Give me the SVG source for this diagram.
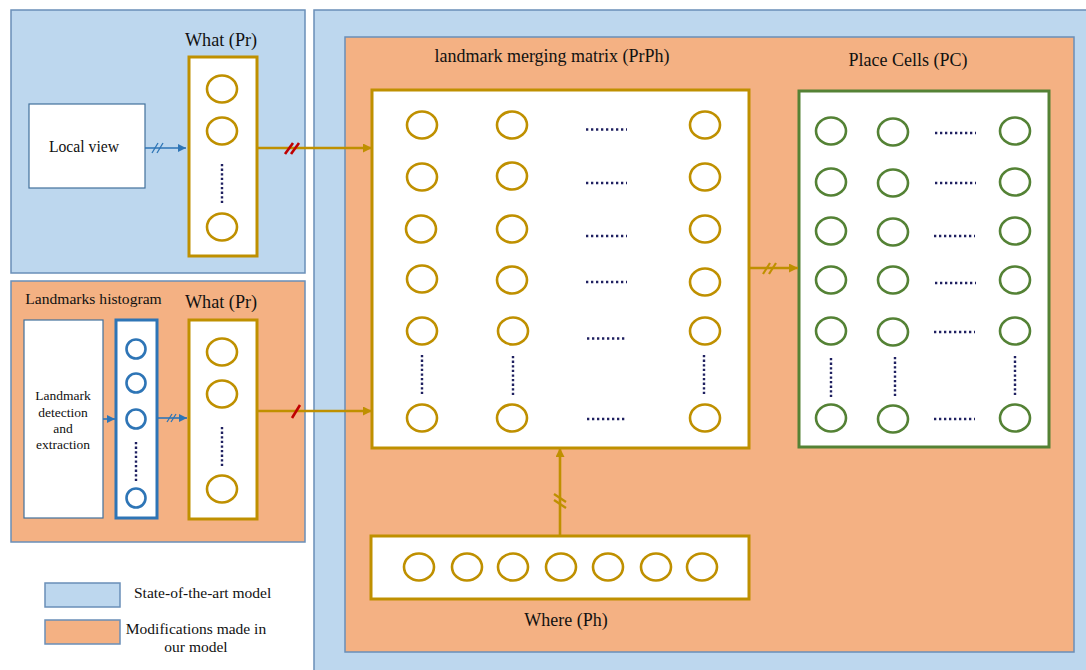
<svg xmlns="http://www.w3.org/2000/svg" width="1086" height="670" viewBox="0 0 1086 670">
<style>
text{font-family:"Liberation Serif","Times New Roman",serif;fill:#111}
.bp{fill:#BDD7EE;stroke:#6A8FB8;stroke-width:1.5}
.op{fill:#F4B183;stroke:#6A8FB8;stroke-width:1.5}
.gb{fill:#fff;stroke:#BF9000;stroke-width:3}
.gc{fill:#fff;stroke:#BF9000;stroke-width:2.6}
.bc{fill:#fff;stroke:#2E75B6;stroke-width:2.6}
.grb{fill:#fff;stroke:#548235;stroke-width:3}
.grc{fill:#fff;stroke:#548235;stroke-width:2.6}
.wb{fill:#fff;stroke:#41719C;stroke-width:1.2}
.dh{stroke:#1F2060;stroke-width:2.4;stroke-dasharray:2.3 2.7;fill:none}
.dv{stroke:#1F2060;stroke-width:2.4;stroke-dasharray:2.3 2.3;fill:none}
.lg{stroke:#BF9000;stroke-width:2.6;fill:none}
.lb{stroke:#2E75B6;stroke-width:1.6;fill:none}
.sr{stroke:#C00000;stroke-width:2.6}
.sb{stroke:#2E75B6;stroke-width:1.3}
.sg{stroke:#BF9000;stroke-width:2.2}
</style>
<defs>
<marker id="ag" viewBox="0 0 10 10" refX="10" refY="5" markerWidth="10" markerHeight="9" markerUnits="userSpaceOnUse" orient="auto"><path d="M0,0 L10,5 L0,10 z" fill="#BF9000"/></marker>
<marker id="ab" viewBox="0 0 10 10" refX="10" refY="5" markerWidth="9" markerHeight="8" markerUnits="userSpaceOnUse" orient="auto"><path d="M0,0 L10,5 L0,10 z" fill="#2E75B6"/></marker>
</defs>

<g id="panel-state-top">
<rect class="bp" x="11" y="10" width="294" height="263"/>
</g>
<g id="panel-right">
<rect class="bp" x="314" y="10" width="780" height="670"/>
<rect class="op" x="345" y="37" width="729" height="615"/>
</g>
<g id="panel-landmarks">
<rect class="op" x="11" y="281" width="294" height="261"/>
<text x="93.5" y="304" font-size="15.6" text-anchor="middle">Landmarks histogram</text>
</g>

<g id="local-view">
<rect class="wb" x="29" y="104" width="116" height="84"/>
<text x="84" y="152" font-size="15.7" text-anchor="middle">Local view</text>
</g>

<g id="what-top">
<text x="221" y="46" font-size="18.2" text-anchor="middle">What (Pr)</text>
<rect class="gb" x="189" y="57" width="68" height="199"/>
<ellipse class="gc" cx="222" cy="89" rx="15" ry="13.5"/>
<ellipse class="gc" cx="222" cy="131" rx="15" ry="13.5"/>
<line class="dv" x1="222" y1="164" x2="222" y2="203"/>
<ellipse class="gc" cx="222" cy="227" rx="15" ry="13.5"/>
</g>

<g id="landmark-detection">
<rect class="wb" x="24" y="320" width="79" height="198"/>
<text x="63" y="400" font-size="13.5" text-anchor="middle">Landmark</text>
<text x="63" y="416.5" font-size="13.5" text-anchor="middle">detection</text>
<text x="63" y="432.5" font-size="13.5" text-anchor="middle">and</text>
<text x="63" y="448.5" font-size="13.5" text-anchor="middle">extraction</text>
</g>

<g id="histogram">
<rect fill="#fff" stroke="#2E75B6" stroke-width="3" x="116" y="320" width="41" height="198"/>
<ellipse class="bc" cx="136" cy="349" rx="9.5" ry="9.5"/>
<ellipse class="bc" cx="136" cy="383" rx="9.5" ry="9.5"/>
<ellipse class="bc" cx="136" cy="419" rx="9.5" ry="9.5"/>
<line class="dv" x1="136" y1="442" x2="136" y2="482"/>
<ellipse class="bc" cx="136" cy="498" rx="9.5" ry="9.5"/>
</g>

<g id="what-bottom">
<text x="221" y="308" font-size="18.2" text-anchor="middle">What (Pr)</text>
<rect class="gb" x="189" y="320" width="68" height="199"/>
<ellipse class="gc" cx="222" cy="352" rx="15" ry="13.5"/>
<ellipse class="gc" cx="222" cy="394" rx="15" ry="13.5"/>
<line class="dv" x1="222" y1="427" x2="222" y2="467"/>
<ellipse class="gc" cx="222" cy="489" rx="15" ry="13.5"/>
</g>

<g id="merging-matrix">
<text x="552" y="62" font-size="18" text-anchor="middle">landmark merging matrix (PrPh)</text>
<rect class="gb" x="372" y="90" width="377" height="358"/>
<g class="gc">
<ellipse cx="422" cy="125" rx="15" ry="13.5"/><ellipse cx="512" cy="125" rx="15" ry="13.5"/><ellipse cx="705" cy="125" rx="15" ry="13.5"/>
<ellipse cx="422" cy="177" rx="15" ry="13.5"/><ellipse cx="512" cy="176" rx="15" ry="13.5"/><ellipse cx="705" cy="177" rx="15" ry="13.5"/>
<ellipse cx="421" cy="229" rx="15" ry="13.5"/><ellipse cx="512" cy="229" rx="15" ry="13.5"/><ellipse cx="705" cy="229" rx="15" ry="13.5"/>
<ellipse cx="422" cy="279" rx="15" ry="13.5"/><ellipse cx="512" cy="280" rx="15" ry="13.5"/><ellipse cx="705" cy="282" rx="15" ry="13.5"/>
<ellipse cx="422" cy="331" rx="15" ry="13.5"/><ellipse cx="513" cy="331" rx="15" ry="13.5"/><ellipse cx="705" cy="331" rx="15" ry="13.5"/>
<ellipse cx="422" cy="418" rx="15" ry="13.5"/><ellipse cx="512" cy="418" rx="15" ry="13.5"/><ellipse cx="705" cy="418" rx="15" ry="13.5"/>
</g>
<g class="dh">
<line x1="586" y1="129.5" x2="627" y2="129.5"/>
<line x1="586" y1="183" x2="627" y2="183"/>
<line x1="586" y1="236" x2="627" y2="236"/>
<line x1="586" y1="282" x2="627" y2="282"/>
<line x1="587" y1="338.5" x2="627" y2="338.5"/>
<line x1="587" y1="419" x2="627" y2="419"/>
</g>
<g class="dv">
<line x1="422" y1="355" x2="422" y2="395"/>
<line x1="513" y1="356" x2="513" y2="396"/>
<line x1="704" y1="355" x2="704" y2="394"/>
</g>
</g>

<g id="place-cells">
<text x="908" y="66" font-size="18" text-anchor="middle">Place Cells (PC)</text>
<rect class="grb" x="799" y="91" width="250" height="356"/>
<g class="grc">
<ellipse cx="831" cy="131" rx="15" ry="13.5"/><ellipse cx="893" cy="132" rx="15" ry="13.5"/><ellipse cx="1015" cy="131" rx="15" ry="13.5"/>
<ellipse cx="831" cy="182" rx="15" ry="13.5"/><ellipse cx="893" cy="183" rx="15" ry="13.5"/><ellipse cx="1015" cy="182" rx="15" ry="13.5"/>
<ellipse cx="831" cy="231" rx="15" ry="13.5"/><ellipse cx="893" cy="232" rx="15" ry="13.5"/><ellipse cx="1015" cy="231" rx="15" ry="13.5"/>
<ellipse cx="831" cy="280" rx="15" ry="13.5"/><ellipse cx="893" cy="280" rx="15" ry="13.5"/><ellipse cx="1015" cy="280" rx="15" ry="13.5"/>
<ellipse cx="831" cy="331" rx="15" ry="13.5"/><ellipse cx="893" cy="332" rx="15" ry="13.5"/><ellipse cx="1015" cy="331" rx="15" ry="13.5"/>
<ellipse cx="831" cy="418" rx="15" ry="13.5"/><ellipse cx="893" cy="419" rx="15" ry="13.5"/><ellipse cx="1015" cy="418" rx="15" ry="13.5"/>
</g>
<g class="dh">
<line x1="935" y1="133" x2="976" y2="133"/>
<line x1="935" y1="183" x2="976" y2="183"/>
<line x1="934" y1="236" x2="975" y2="236"/>
<line x1="935" y1="283" x2="976" y2="283"/>
<line x1="934" y1="332" x2="975" y2="332"/>
<line x1="934" y1="419" x2="975" y2="419"/>
</g>
<g class="dv">
<line x1="831" y1="358" x2="831" y2="398"/>
<line x1="895" y1="357" x2="895" y2="397"/>
<line x1="1015" y1="356" x2="1015" y2="396"/>
</g>
</g>

<g id="where">
<rect class="gb" x="371" y="536" width="378" height="63"/>
<g class="gc">
<ellipse cx="419" cy="567" rx="15" ry="13.5"/>
<ellipse cx="467" cy="567" rx="15" ry="13.5"/>
<ellipse cx="513" cy="567" rx="15" ry="13.5"/>
<ellipse cx="561" cy="567" rx="15" ry="13.5"/>
<ellipse cx="608" cy="567" rx="15" ry="13.5"/>
<ellipse cx="656" cy="567" rx="15" ry="13.5"/>
<ellipse cx="702" cy="567" rx="15" ry="13.5"/>
</g>
<text x="566" y="626" font-size="18" text-anchor="middle">Where (Ph)</text>
</g>

<g id="connectors">
<line class="lb" x1="145" y1="148" x2="186" y2="148" marker-end="url(#ab)"/>
<line class="sb" x1="152" y1="153" x2="158" y2="143"/>
<line class="sb" x1="157" y1="153" x2="163" y2="143"/>
<line class="lg" x1="257" y1="148" x2="372" y2="148" marker-end="url(#ag)"/>
<line class="sr" x1="285" y1="154" x2="293" y2="143"/>
<line class="sr" x1="291" y1="154" x2="299" y2="143"/>
<line class="lb" x1="103" y1="419" x2="115" y2="419" marker-end="url(#ab)"/>
<line class="lb" x1="157" y1="418" x2="187" y2="418" marker-end="url(#ab)"/>
<line class="sb" x1="167" y1="422" x2="172" y2="414"/>
<line class="sb" x1="171" y1="422" x2="176" y2="414"/>
<line class="lg" x1="257" y1="411" x2="372" y2="411" marker-end="url(#ag)"/>
<line class="sr" x1="292" y1="418" x2="300" y2="405"/>
<line class="lg" x1="749" y1="268" x2="798" y2="268" marker-end="url(#ag)"/>
<line class="sg" x1="763" y1="274" x2="770" y2="263"/>
<line class="sg" x1="769" y1="274" x2="776" y2="263"/>
<line class="lg" x1="560" y1="536" x2="560" y2="448" marker-end="url(#ag)"/>
<line class="sg" x1="554" y1="494" x2="566" y2="502"/>
<line class="sg" x1="554" y1="500" x2="566" y2="508"/>
</g>

<g id="legend">
<rect class="bp" x="45" y="583" width="75" height="24"/>
<text x="134" y="598" font-size="15.5">State-of-the-art model</text>
<rect class="op" x="45" y="620" width="75" height="24"/>
<text x="196" y="634" font-size="15.5" text-anchor="middle">Modifications made in</text>
<text x="196" y="652" font-size="15.5" text-anchor="middle">our model</text>
</g>
</svg>
